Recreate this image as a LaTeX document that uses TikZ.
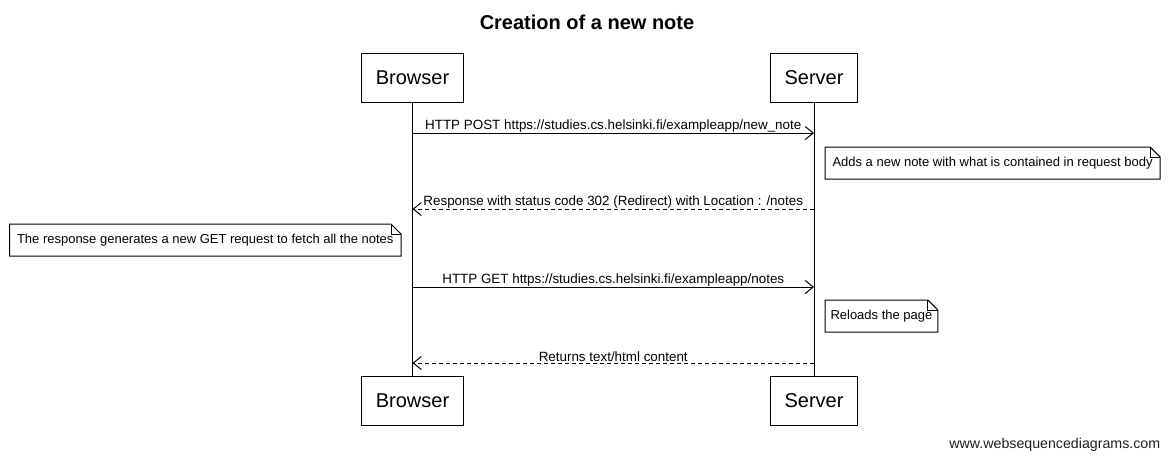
\documentclass[tikz,border=0pt]{standalone}
\usepackage{fontspec}
\setmainfont{Liberation Sans}
\usepackage{tikz}
\usetikzlibrary{arrows.meta, positioning}
\definecolor{seqblack}{RGB}{0,0,0}
\definecolor{seqgray}{RGB}{30,30,30}

\begin{document}
\begin{tikzpicture}[x=1pt, y=-1pt, line width=1pt,
    actor/.style={draw=seqblack, fill=white, inner xsep=14.5pt, minimum height=49pt,
      font=\fontsize{20}{22}\selectfont},
    notebox/.style={inner xsep=7pt, minimum height=31pt, font=\fontsize{13}{15}\selectfont},
    msg/.style={draw=seqblack, -{Straight Barb[length=8pt, width=13pt]}},
    reply/.style={msg, dash pattern=on 4pt off 3pt},
    lbl/.style={above, inner sep=0.5pt, font=\fontsize{13.4}{15}\selectfont}]
    \useasboundingbox (0,0) rectangle (1172,459);
    % title
    \node[font=\bfseries\fontsize{20}{22}\selectfont] (title) at (587,22.5) {Creation of a new note};
    % participants, top and bottom
    \node[actor] (browsertop) at (412.5,78) {Browser};
    \node[actor] (servertop) at (814,78) {Server};
    \node[actor] (browserbot) at (412.5,400.5) {Browser};
    \node[actor] (serverbot) at (814,400.5) {Server};
    % lifelines
    \draw (browsertop) -- (browserbot);
    \draw (servertop) -- (serverbot);
    % message end points on the lifelines
    \foreach \name/\y in {post/133, redir/209, get/287, html/363} {
      \coordinate (b\name) at (browsertop.south |- 0,\y);
      \coordinate (s\name) at (servertop.south |- 0,\y);
    }
    % messages
    \draw[msg] (bpost) -- (spost)
      node[lbl, midway] {HTTP POST https://studies.cs.helsinki.fi/exampleapp/new\_note};
    \draw[reply] (sredir) -- (bredir)
      node[lbl, midway] {Response with status code 302 (Redirect) with Location : /notes};
    \draw[msg] (bget) -- (sget)
      node[lbl, midway] {HTTP GET https://studies.cs.helsinki.fi/exampleapp/notes};
    \draw[reply] (shtml) -- (bhtml)
      node[lbl, midway] {Returns text/html content};
    % notes
    \node[notebox, anchor=north west] (addnote) at (825,147)
      {Adds a new note with what is contained in request body};
    \node[notebox, anchor=north east] (fetchnote) at (401,224)
      {The response generates a new GET request to fetch all the notes};
    \node[notebox, anchor=north west, inner xsep=5pt] (reload) at (825,300) {Reloads the page};
    \foreach \n in {addnote, fetchnote, reload} {
      \draw[seqblack] (\n.south west) -- (\n.north west) -- ([xshift=-10pt]\n.north east)
        -- ([yshift=-10pt]\n.north east) -- (\n.south east) -- cycle;
      \draw[seqblack] ([xshift=-10pt]\n.north east) -- ([xshift=-10pt, yshift=-10pt]\n.north east)
        -- ([yshift=-10pt]\n.north east);
    }
    % footer
    \node[anchor=east, font=\fontsize{14.2}{16}\selectfont, text=seqgray] (footer) at (1164,445)
      {www.websequencediagrams.com};
  \end{tikzpicture}
\end{document}
